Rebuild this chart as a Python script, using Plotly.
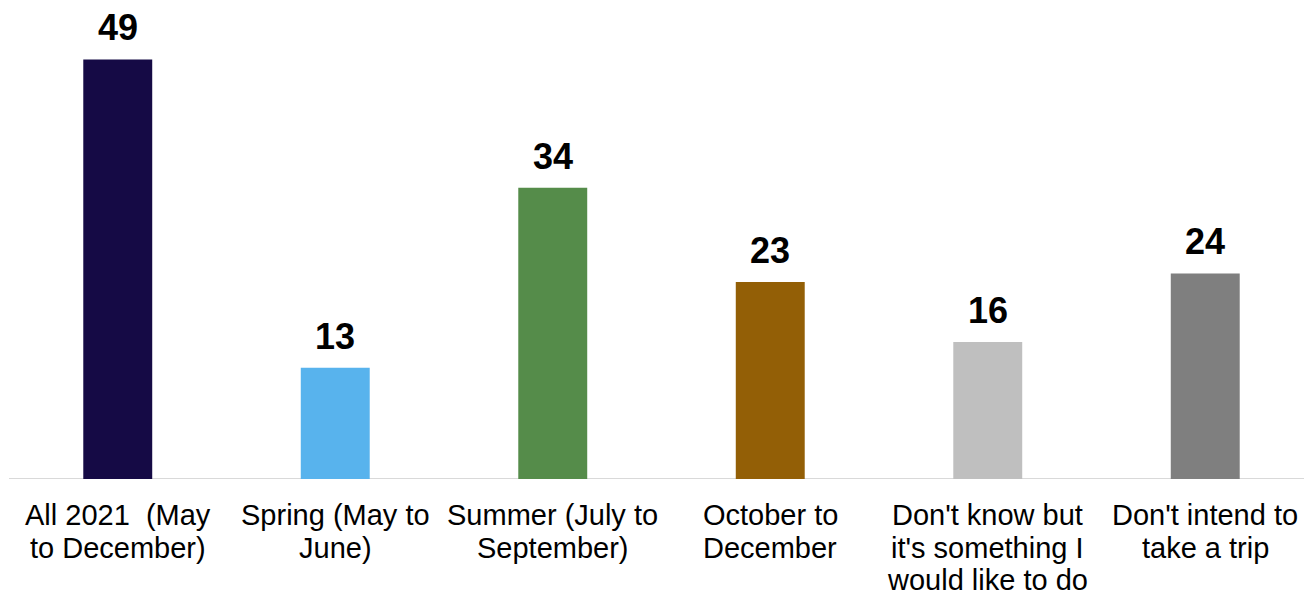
import plotly.graph_objects as go

categories = [
    "All 2021  (May to December)",
    "Spring (May to June)",
    "Summer (July to September)",
    "October to December",
    "Don't know but it's something I would like to do",
    "Don't intend to take a trip",
]
label_lines = [
    ["All 2021  (May", "to December)"],
    ["Spring (May to", "June)"],
    ["Summer (July to", "September)"],
    ["October to", "December"],
    ["Don't know but", "it's something I", "would like to do"],
    ["Don't intend to", "take a trip"],
]
values = [49, 13, 34, 23, 16, 24]
colors = ["#150A45", "#58B3ED", "#558C4A", "#935F06", "#BFBFBF", "#7F7F7F"]

FONT = "Liberation Sans, Arial, sans-serif"
LABEL_OFFSET = 36
LINE_STEP = 32.5

fig = go.Figure(
    go.Bar(
        x=categories,
        y=values,
        marker=dict(color=colors, line=dict(width=0)),
        width=0.317,
        hoverinfo="x+y",
    )
)

for c, v in zip(categories, values):
    fig.add_annotation(
        x=c, y=v, text=f"<b>{v}</b>", showarrow=False,
        xanchor="center", yanchor="bottom", yshift=9,
        font=dict(family=FONT, size=36, color="#000000"),
    )

for c, lines in zip(categories, label_lines):
    for i, line in enumerate(lines):
        fig.add_annotation(
            x=c, xref="x", y=0, yref="paper", text=line, showarrow=False,
            xanchor="center", yanchor="middle",
            yshift=-(LABEL_OFFSET + i * LINE_STEP),
            font=dict(family=FONT, size=29, color="#000000"),
        )

# baseline (category axis line) running to the right edge
fig.add_shape(
    type="line", xref="paper", yref="y", x0=0, x1=1.02, y0=0, y1=0,
    line=dict(color="#D9D9D9", width=2), layer="below",
)

fig.update_layout(
    width=1312,
    height=594,
    margin=dict(l=1, r=6, t=0, b=123),
    paper_bgcolor="white",
    plot_bgcolor="rgba(0,0,0,0)",
    showlegend=False,
    font=dict(family=FONT, color="#000000"),
)
fig.update_xaxes(
    showline=False,
    showgrid=False,
    zeroline=False,
    ticks="",
    showticklabels=False,
    automargin=False,
)
fig.update_yaxes(
    range=[0, 55],
    showgrid=False,
    zeroline=False,
    showticklabels=False,
    visible=False,
)

fig.write_html("out.html")
